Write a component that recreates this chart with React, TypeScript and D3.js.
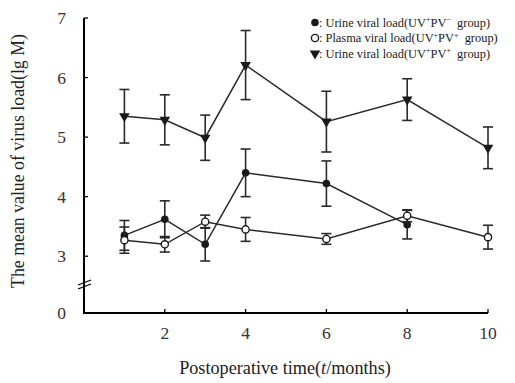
import React from "react";
import { scaleLinear, line, symbol, symbolTriangle } from "d3";

// months measured for each group
const monthsNeg = [1, 2, 3, 4, 6, 8];
const monthsPos = [1, 2, 3, 4, 6, 8, 10];

// UV+PV- urine viral load (filled circle)
const urineNeg = [3.35, 3.62, 3.2, 4.4, 4.22, 3.53];
const urineNegErr = [0.25, 0.31, 0.28, 0.4, 0.38, 0.24];

// UV+PV+ plasma viral load (open circle)
const plasma = [3.27, 3.2, 3.58, 3.45, 3.29, 3.68, 3.32];
const plasmaErr = [0.22, 0.13, 0.11, 0.2, 0.09, 0.1, 0.2];

// UV+PV+ urine viral load (down triangle)
const urinePos = [5.35, 5.29, 4.99, 6.21, 5.26, 5.63, 4.82];
const urinePosErr = [0.45, 0.42, 0.38, 0.58, 0.51, 0.35, 0.35];

const xTicks = [2, 4, 6, 8, 10];
const yTicks = [0, 3, 4, 5, 6, 7];

const font = "'Liberation Serif', 'Times New Roman', serif";
const ink = "#1a1a1a";

export default function App() {
  const x = scaleLinear().domain([0, 10]).range([84, 488]);
  // broken axis: 0 sits below a gap, 3..7 is linear
  const y = scaleLinear().domain([0, 2.5, 7]).range([313, 286, 18]);

  const path = line<[number, number]>()
    .x((d) => x(d[0]))
    .y((d) => y(d[1]));

  const tri = symbol().type(symbolTriangle).size(48)() as string;

  const series = [
    { months: monthsNeg, values: urineNeg, errs: urineNegErr, kind: "filled" },
    { months: monthsPos, values: plasma, errs: plasmaErr, kind: "open" },
    { months: monthsPos, values: urinePos, errs: urinePosErr, kind: "tri" },
  ];

  const marker = (kind: string, cx: number, cy: number, key?: any) => {
    if (kind === "filled")
      return <circle key={key} cx={cx} cy={cy} r={3.8} fill={ink} />;
    if (kind === "open")
      return (
        <circle key={key} cx={cx} cy={cy} r={3.6} fill="#fff" stroke={ink} strokeWidth={1.4} />
      );
    return (
      <path key={key} d={tri} transform={`translate(${cx},${cy}) rotate(180)`} fill={ink} />
    );
  };

  const legend = [
    { kind: "filled", label: "Urine viral load(UV", s1: "+", mid: "PV", s2: "\u2212", end: "  group)" },
    { kind: "open", label: "Plasma viral load(UV", s1: "+", mid: "PV", s2: "+", end: "  group)" },
    { kind: "tri", label: "Urine viral load(UV", s1: "+", mid: "PV", s2: "+", end: "  group)" },
  ];

  return (
    <svg
      width={515}
      height={383}
      style={{ position: "absolute", left: 0, top: 0, background: "#fff" }}
      fontFamily={font}
    >
      {/* axes */}
      <line x1={x(0)} x2={x(0)} y1={y(0) + 1} y2={y(7)} stroke="#000" strokeWidth={2} />
      <line x1={x(0)} x2={x(10)} y1={y(0)} y2={y(0)} stroke="#000" strokeWidth={2} />
      {/* break marks */}
      <line x1={78} y1={285} x2={91} y2={280} stroke="#000" strokeWidth={1.3} />
      <line x1={78} y1={289} x2={91} y2={284} stroke="#000" strokeWidth={1.3} />

      {yTicks.map((t) => (
        <g key={"y" + t}>
          {t > 0 && <line x1={x(0)} x2={x(0) + 4} y1={y(t)} y2={y(t)} stroke="#000" strokeWidth={1.3} />}
          <text x={66} y={y(t)} dy="0.35em" textAnchor="end" fontSize={17.5} fill="#333">
            {t}
          </text>
        </g>
      ))}
      {xTicks.map((t) => (
        <g key={"x" + t}>
          <line x1={x(t)} x2={x(t)} y1={y(0)} y2={y(0) - 4} stroke="#000" strokeWidth={1.3} />
          <text x={x(t)} y={339} textAnchor="middle" fontSize={17.5} fill="#333">
            {t}
          </text>
        </g>
      ))}

      <text x={285} y={374} textAnchor="middle" fontSize={18.2} fill="#222">
        Postoperative time(<tspan fontStyle="italic">t</tspan>/months)
      </text>
      <text
        transform="translate(24,161) rotate(-90)"
        textAnchor="middle"
        fontSize={17.8}
        fill="#222"
      >
        The mean value of virus load(lg M)
      </text>

      {series.map((s, si) => (
        <g key={"s" + si}>
          <path
            d={path(s.months.map((m, i) => [m, s.values[i]]) as [number, number][]) as string}
            fill="none"
            stroke="#2a2a2a"
            strokeWidth={1.5}
          />
          {s.months.map((m, i) => {
            const cx = x(m);
            const top = y(s.values[i] + s.errs[i]);
            const bot = y(s.values[i] - s.errs[i]);
            return (
              <g key={i} stroke="#2a2a2a" strokeWidth={1.6}>
                <line x1={cx} x2={cx} y1={top} y2={bot} />
                <line x1={cx - 5} x2={cx + 5} y1={top} y2={top} />
                <line x1={cx - 5} x2={cx + 5} y1={bot} y2={bot} />
              </g>
            );
          })}
          {s.months.map((m, i) => marker(s.kind, x(m), y(s.values[i]), i))}
        </g>
      ))}

      {/* legend */}
      {legend.map((l, i) => {
        const ly = 22.5 + i * 15.5;
        return (
          <g key={"l" + i}>
            {marker(l.kind, 315, ly)}
            <text x={319} y={ly} dy="0.35em" fontSize={12.4} fill="#222">
              {": " + l.label}
              <tspan fontSize={8} dy={-4.5}>{l.s1}</tspan>
              <tspan dy={4.5}>{l.mid}</tspan>
              <tspan fontSize={8} dy={-4.5}>{l.s2}</tspan>
              <tspan dy={4.5} style={{ whiteSpace: "pre" }}>{l.end}</tspan>
            </text>
          </g>
        );
      })}
    </svg>
  );
}
